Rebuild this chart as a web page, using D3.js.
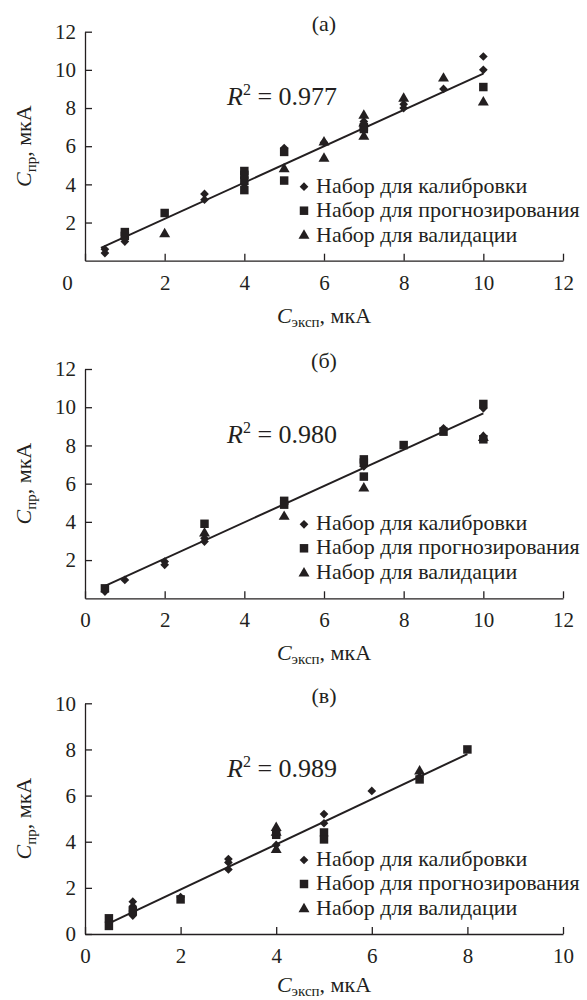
<!DOCTYPE html>
<html>
<head>
<meta charset="utf-8">
<title>calibration plots</title>
<script src="https://d3js.org/d3.v7.min.js"></script>
<style>
  body { margin: 0; background: #fff; }
  svg text { font-family: "Liberation Serif", "Times New Roman", serif; fill: #231f20; }
</style>
</head>
<body>
<div id="chart"></div>
<script>
// ---- data: [C_эксп, C_пр] pairs ----
var calibA = [[0.5,0.4],[0.5,0.6],[1,1.0],[1,1.2],[3,3.2],[3,3.5],[4,4.0],[5,5.9],[6,6.2],[7,7.3],[8,8.2],[8,8.0],[9,9.0],[10,10.7],[10,10.0]];
var predA  = [[1,1.3],[1,1.5],[2,2.5],[4,3.7],[4,4.2],[4,4.5],[4,4.7],[5,5.7],[5,4.2],[7,7.0],[7,6.9],[10,9.1]];
var validA = [[2,1.4],[5,4.8],[6,6.2],[6,5.35],[7,7.6],[7,7.2],[7,6.5],[8,8.5],[9,9.55],[10,8.3]];
var fitA   = [[0.4,0.67],[10,9.8]];

var calibB = [[0.5,0.35],[1,0.96],[2,1.92],[2,1.75],[3,3.14],[3,2.97],[7,6.9],[9,8.9],[10,9.94],[10,8.5]];
var predB  = [[0.5,0.52],[3,3.9],[5,5.1],[5,4.9],[7,7.27],[7,7.1],[7,6.37],[8,8.02],[9,8.72],[10,10.17],[10,8.32]];
var validB = [[3,3.4],[5,4.27],[7,5.76],[10,8.4]];
var fitB   = [[0.45,0.6],[10,9.68]];

var calibC = [[1,1.4],[1,1.2],[1,1.0],[1,0.8],[2,1.6],[3,3.25],[3,3.1],[3,2.8],[4,3.86],[5,5.2],[5,4.8],[6,6.2],[7,6.8]];
var predC  = [[0.5,0.68],[0.5,0.35],[1,1.0],[2,1.5],[4,4.3],[5,4.4],[5,4.1],[7,6.7],[8,8.0]];
var validC = [[4,4.6],[4,4.4],[4,3.65],[7,7.05]];
var fitC   = [[0.5,0.46],[8,7.8]];

var titles = ["(а)", "(б)", "(в)"];
var r2Values = ["0.977", "0.980", "0.989"];
var ticksAB = [0, 2, 4, 6, 8, 10, 12];
var ticksC = [0, 2, 4, 6, 8, 10];
var legendLabels = ["Набор для калибровки", "Набор для прогнозирования", "Набор для валидации"];

/* layout */
var totalWidth = 587, totalHeight = 1000,
    left = 85, plotWidth = 478,
    ink = "#231f20";

var panels = [
  {top: 31.7,  height: 229,   xMax: 12, yMax: 12, xTicks: ticksAB, yTicks: ticksAB.slice(1), zeroDx: -18, labelGap: 62,
   sets: [calibA, predA, validA], fit: fitA},
  {top: 369,   height: 229.3, xMax: 12, yMax: 12, xTicks: ticksAB, yTicks: ticksAB.slice(1), zeroDx: 0, labelGap: 62,
   sets: [calibB, predB, validB], fit: fitB},
  {top: 703.3, height: 230.7, xMax: 10, yMax: 10, xTicks: ticksC, yTicks: ticksC, zeroDx: 0, labelGap: 58,
   sets: [calibC, predC, validC], fit: fitC}
];

var symbols = [
  d3.symbol().type(d3.symbolSquare).size(38),   // diamond (rotated square)
  d3.symbol().type(d3.symbolSquare).size(72),
  d3.symbol().type(d3.symbolTriangle).size(52)
];
var rotations = [45, 0, 0];

var svg = d3.select("#chart").append("svg")
    .attr("width", totalWidth)
    .attr("height", totalHeight);

panels.forEach(function(p, pi){
  var g = svg.append("g").attr("transform", "translate(" + left + "," + p.top + ")");
  var x = d3.scaleLinear().domain([0, p.xMax]).range([0, plotWidth]);
  var y = d3.scaleLinear().domain([0, p.yMax]).range([p.height, 0]);

  /* axes, ticks pointing inward */
  var gx = g.append("g").attr("transform", "translate(0," + p.height + ")")
      .call(d3.axisBottom(x).tickValues(p.xTicks).tickSizeInner(-7).tickSizeOuter(0).tickPadding(14));
  var gy = g.append("g")
      .call(d3.axisLeft(y).tickValues(p.yTicks).tickSizeInner(-7).tickSizeOuter(0).tickPadding(9));
  [gx, gy].forEach(function(a){
    a.selectAll("path, line").attr("stroke", ink).attr("stroke-width", 1.3);
    a.selectAll("text").attr("font-size", "21px")
        .style("font-family", "'Liberation Serif', serif").attr("fill", ink);
  });
  gx.selectAll(".tick text").filter(function(d){ return d === 0; }).attr("dx", p.zeroDx);

  /* regression line */
  g.append("path")
    .datum(p.fit)
    .attr("d", d3.line().x(function(d){ return x(d[0]); }).y(function(d){ return y(d[1]); }))
    .attr("stroke", ink).attr("stroke-width", 2).attr("fill", "none");

  /* points */
  p.sets.forEach(function(set, si){
    g.append("g").selectAll("path")
      .data(set)
      .enter().append("path")
      .attr("d", symbols[si])
      .attr("transform", function(d){ return "translate(" + x(d[0]) + "," + y(d[1]) + ") rotate(" + rotations[si] + ")"; })
      .attr("fill", ink);
  });

  /* title */
  g.append("text")
    .attr("x", plotWidth / 2).attr("y", -0.7)
    .attr("text-anchor", "middle").attr("font-size", "22px")
    .text(titles[pi]);

  /* R^2 */
  var r2 = g.append("text").attr("x", 142).attr("y", 73.5).attr("font-size", "26px");
  r2.append("tspan").attr("font-style", "italic").text("R");
  r2.append("tspan").attr("font-size", "16px").attr("dy", -10).text("2");
  r2.append("tspan").attr("dy", 10).text(" = " + r2Values[pi]);

  /* legend */
  var lg = g.append("g").attr("transform", "translate(0," + p.height + ")");
  var rows = [-74, -50, -25];
  legendLabels.forEach(function(lab, li){
    lg.append("path")
      .attr("d", symbols[li])
      .attr("transform", "translate(219," + rows[li] + ") rotate(" + rotations[li] + ")")
      .attr("fill", ink);
    lg.append("text")
      .attr("x", 231).attr("y", rows[li] + 6)
      .attr("font-size", "22px")
      .text(lab);
  });

  /* axis titles */
  var xl = g.append("text")
    .attr("x", plotWidth / 2).attr("y", p.height + p.labelGap)
    .attr("text-anchor", "middle").attr("font-size", "22px");
  xl.append("tspan").attr("font-style", "italic").text("C");
  xl.append("tspan").attr("font-size", "15px").attr("dy", 4).text("эксп");
  xl.append("tspan").attr("dy", -4).text(", мкА");

  var yl = g.append("text")
    .attr("transform", "translate(" + (31 - left) + "," + (p.height / 2) + ") rotate(-90)")
    .attr("text-anchor", "middle").attr("font-size", "22px");
  yl.append("tspan").attr("font-style", "italic").text("C");
  yl.append("tspan").attr("font-size", "15px").attr("dy", 5).text("пр");
  yl.append("tspan").attr("dy", -5).text(", мкА");
});
</script>
</body>
</html>
